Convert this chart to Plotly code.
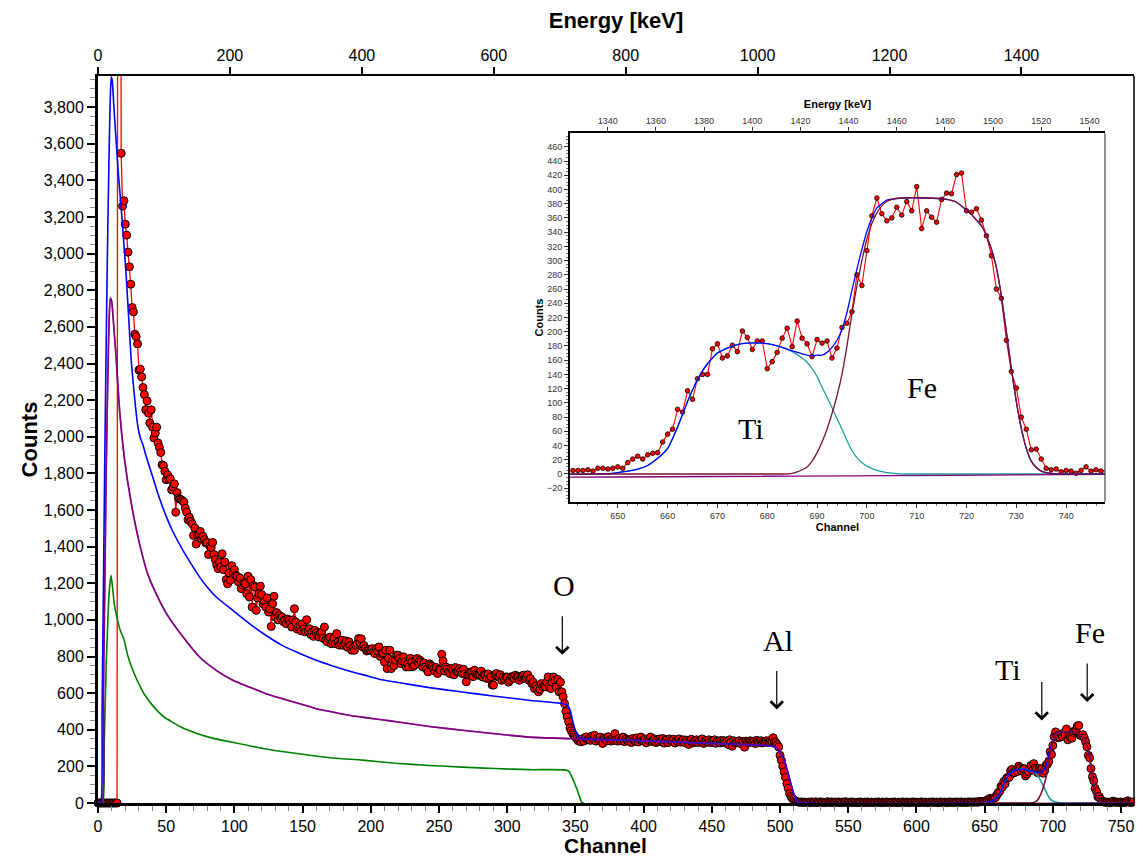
import plotly.graph_objects as go

KEV_PER_CH = 2.068

# ---------------- measured spectrum (one value per channel, 0..760) ----------------
counts = [
    0, 0, 0, 0, 0, 0, 0, 0, 0, 0,
    0, 0, 0, 0, 0, 12000, 12000, 3548, 3260, 3289,
    3161, 3101, 3008, 2928, 2833, 2706, 2682, 2560, 2547, 2507,
    2364, 2369, 2327, 2269, 2230, 2147, 2196, 2129, 2075, 2147,
    2052, 1993, 2020, 2052, 1966, 1942, 1914, 1847, 1841, 1811,
    1765, 1792, 1768, 1770, 1710, 1725, 1743, 1588, 1695, 1665,
    1660, 1656, 1650, 1643, 1610, 1588, 1547, 1560, 1538, 1525,
    1461, 1501, 1414, 1465, 1470, 1483, 1440, 1456, 1438, 1420,
    1423, 1357, 1402, 1395, 1423, 1357, 1329, 1300, 1280, 1315,
    1289, 1361, 1274, 1316, 1220, 1197, 1256, 1216, 1296, 1261,
    1274, 1243, 1238, 1207, 1229, 1171, 1190, 1202, 1197, 1143,
    1238, 1125, 1220, 1070, 1188, 1180, 1052, 1120, 1143, 1184,
    1138, 1088, 1100, 1070, 1120, 1043, 1060, 964, 1088, 1129,
    1015, 1040, 1000, 1025, 1010, 1015, 990, 1000, 979, 1005,
    997, 980, 961, 1000, 1061, 988, 950, 961, 970, 940,
    979, 950, 934, 1001, 940, 952, 920, 934, 910, 943,
    930, 915, 907, 925, 934, 900, 961, 890, 880, 898,
    906, 870, 880, 900, 870, 925, 880, 862, 875, 889,
    860, 871, 885, 850, 880, 860, 834, 850, 834, 862,
    870, 898, 875, 897, 852, 860, 843, 830, 834, 840,
    834, 843, 825, 816, 843, 830, 852, 800, 816, 820,
    770, 834, 734, 789, 834, 734, 780, 750, 780, 807,
    807, 790, 761, 775, 798, 770, 743, 760, 743, 790,
    770, 745, 752, 780, 789, 760, 780, 770, 743, 765,
    743, 730, 716, 760, 752, 745, 734, 720, 740, 707,
    730, 725, 812, 776, 720, 743, 730, 715, 707, 735,
    725, 700, 740, 716, 720, 734, 720, 707, 730, 705,
    662, 700, 707, 715, 716, 690, 725, 705, 700, 698,
    698, 720, 688, 700, 698, 680, 705, 680, 690, 644,
    644, 700, 707, 690, 688, 700, 670, 688, 675, 688,
    688, 660, 670, 690, 688, 680, 698, 690, 688, 670,
    688, 695, 698, 680, 688, 700, 670, 680, 652, 660,
    625, 640, 625, 607, 620, 652, 634, 640, 634, 660,
    688, 640, 625, 660, 688, 670, 634, 675, 607, 660,
    607, 580, 543, 500, 470, 443, 410, 395, 380, 370,
    360, 352, 340, 345, 334, 350, 338, 356, 361, 345,
    350, 342, 365, 348, 370, 338, 352, 347, 360, 340,
    325, 355, 348, 340, 362, 345, 338, 350, 342, 379,
    345, 338, 352, 340, 347, 360, 335, 350, 342, 338,
    345, 330, 352, 343, 338, 355, 333, 348, 360, 340,
    338, 350, 329, 345, 340, 360, 336, 342, 350, 330,
    345, 335, 350, 338, 352, 327, 342, 346, 330, 350,
    340, 335, 348, 328, 342, 336, 350, 332, 340, 345,
    330, 344, 335, 320, 340, 348, 328, 338, 333, 345,
    330, 342, 335, 350, 325, 338, 340, 332, 345, 330,
    338, 330, 345, 326, 340, 335, 328, 342, 333, 340,
    330, 338, 320, 345, 332, 310, 340, 328, 335, 330,
    340, 325, 336, 330, 305, 338, 332, 328, 340, 335,
    332, 338, 325, 342, 335, 330, 340, 328, 336, 333,
    340, 330, 335, 342, 338, 356, 335, 330, 318, 306,
    260, 233, 200, 170, 140, 106, 80, 51, 35, 25,
    18, 10, 8, 6, 5, 4, 6, 3, 5, 4,
    3, 5, 2, 6, 4, 3, 7, 2, 4, 5,
    6, 3, 4, 2, 5, 7, 3, 4, 6, 2,
    4, 5, 3, 6, 2, 4, 5, 3, 7, 4,
    2, 5, 4, 6, 3, 4, 2, 5, 3, 6,
    4, 3, 5, 2, 6, 4, 3, 5, 4, 2,
    5, 3, 6, 4, 2, 5, 4, 3, 6, 3,
    4, 2, 5, 3, 6, 4, 3, 5, 2, 4,
    6, 3, 4, 5, 2, 4, 3, 6, 4, 5,
    3, 4, 2, 5, 6, 3, 4, 5, 2, 4,
    5, 3, 6, 4, 3, 5, 2, 4, 6, 3,
    4, 5, 3, 2, 6, 4, 5, 3, 4, 6,
    3, 5, 4, 6, 3, 4, 5, 3, 6, 4,
    5,
    5, 5, 5, 6, 4, 8, 8, 7, 8, 10,
    8, 16, 21, 25, 21, 27, 29, 30, 45, 56,
    63, 91, 87, 117, 105, 134, 140, 140, 176, 183,
    163, 166, 181, 172, 201, 192, 175, 187, 187, 148,
    158, 171, 191, 205, 179, 215, 191, 183, 165, 189,
    184, 187, 163, 177, 206, 212, 228, 280, 265, 314,
    363, 388, 366, 356, 360, 375, 364, 383, 370, 404,
    345, 370, 361, 354, 386, 395, 394, 421, 423, 370,
    368, 373, 357, 335, 307, 260, 247, 188, 144, 121,
    80, 63, 34, 35, 21, 8, 6, 7, 3, 5,
    4, 1, 5, 10, 4, 6, 4, 5, 3, 6,
    2, 4, 3, 8, 12, 5, 3, 4, 6, 5,
]
channel = list(range(len(counts)))

# ---------------- simulated curves (sampled channel / value pairs) ----------------
total_ch = [0, 2, 3, 4, 5, 6, 7, 8, 9, 9.7, 10.5, 11.5, 13.4, 15, 17, 19, 20.7, 22.5, 24.3,
            27, 29.2, 31, 33, 35, 40, 45, 50, 55, 60, 65, 70, 75, 80, 86.7, 98.8, 111, 123,
            135, 148, 160, 172, 184, 196, 208, 220, 243, 267, 291, 316, 340, 344, 346,
            348.5, 350, 352, 355, 360, 391, 440, 488, 495, 498, 500, 503, 506.6, 510, 513,
            516, 646, 648, 650, 652, 654, 656, 658, 660, 661, 662, 663, 664, 665, 666, 667,
            668, 669, 670, 672, 674, 676, 679, 681, 683, 685, 687, 688, 689, 690, 691, 692,
            693, 694, 695, 696, 697, 698, 699, 700, 701, 702, 703, 704, 705, 707, 712, 716,
            718, 720, 721, 722, 723, 724, 725, 726, 727, 728, 729, 730, 731, 732, 733, 734,
            735, 736, 737, 738, 760]
total_val = [0, 0, 500, 1200, 1900, 2500, 3050, 3500, 3850, 3965, 3940, 3820, 3603, 3430, 3250,
             3050, 2875, 2650, 2421, 2200, 2057, 1995, 1955, 1900, 1783, 1665, 1565, 1480, 1410,
             1345, 1285, 1228, 1180, 1125, 1052, 980, 916, 861, 816, 779, 748, 721, 697, 673, 658,
             630, 606, 583, 561, 543, 535, 510, 433, 395, 365, 352, 349, 342, 328, 315, 308,
             298, 275, 233, 142, 51, 8, 0, 0, 0.5, 2, 4, 7, 12, 22, 36, 50, 66, 84, 102, 118,
             133, 145, 155, 163, 170, 177, 182, 184, 184, 182, 178, 173, 169, 167, 166, 167,
             167, 171, 178, 188, 203, 227, 258, 288, 316, 341, 360, 374, 380, 385, 386.5, 388,
             388, 386, 382, 371, 365, 357, 349, 335, 316, 290, 250, 200, 148, 102, 64, 36, 18,
             9, 4, 2, 1, 0, 0]

al_ch = [0, 3, 4, 5, 6, 7, 8, 9, 10, 11, 12, 13.4, 15.8, 19.5, 24.3, 29.2, 33, 36, 40.4, 50.2,
         62.4, 74.5, 86.7, 98.8, 111, 123, 135, 148, 160, 172, 184, 196, 208, 220, 243, 267,
         291, 316, 347, 364, 391, 440, 488, 495, 498, 500, 503, 506.6, 510, 513, 516, 760]
al_val = [0, 0, 600, 1200, 1800, 2250, 2600, 2757, 2740, 2660, 2560, 2420, 2147, 1874, 1640,
          1456, 1340, 1260, 1179, 1034, 906, 797, 724, 670, 633, 597, 570, 542, 515, 497, 479,
          466, 455, 442, 418, 397, 378, 360, 351, 346, 342, 328, 315, 308, 298, 275, 233, 142,
          51, 8, 0, 0]

o_ch = [0, 3.5, 4.5, 6, 7, 8, 9.5, 10.5, 11.9, 14, 16, 19.2, 22, 26.5, 30, 33.6, 40.9, 48.2,
        60.4, 72.5, 84.7, 96.9, 121, 146, 170, 194, 218, 243, 267, 291, 316, 342, 345, 347,
        349, 351, 353, 354.6, 356]
o_val = [0, 0, 300, 750, 950, 1130, 1243, 1190, 1089, 1010, 950, 889, 800, 707, 650, 598, 525,
         471, 416, 380, 353, 334, 298, 270, 247, 234, 217, 205, 196, 188, 182, 181, 175, 150,
         115, 79, 35, 5, 0]

ti_ch = [648, 649, 650, 652, 654, 656, 658, 659, 660, 661, 662, 663, 664, 665, 666, 667, 668,
         669, 670, 672, 674, 676, 679, 681, 683, 685, 687, 688, 689, 690, 691, 692, 693, 694,
         695, 696, 697, 698, 699, 700, 702, 704, 706, 708, 760]
ti_val = [0, 1, 2, 4, 7, 12, 22, 28, 36, 50, 66, 84, 102, 118, 133, 145, 155, 163, 170, 177,
          182, 184, 184, 182, 178, 172, 163, 157, 148, 137, 122, 108, 93, 78, 63, 47, 33, 23,
          16, 11, 5, 2, 0.5, 0, 0]

fe_ch = [640, 683, 685, 686, 687, 688, 689, 690, 691, 692, 693, 694, 695, 696, 697, 698, 699,
         700, 701, 702, 703, 704, 705, 707, 712, 716, 718, 720, 721, 722, 723, 724, 725, 726,
         727, 728, 729, 730, 731, 732, 733, 734, 735, 736, 737, 738, 760]
fe_val = [0, 0, 1, 3, 6, 10, 18, 30, 45, 63, 85, 110, 140, 180, 225, 265, 300, 330, 352, 367,
          377, 383, 386, 388, 388, 386, 382, 371, 365, 357, 349, 335, 316, 290, 250, 200, 148,
          102, 64, 36, 18, 9, 4, 2, 1, 0, 0]

assert len(counts) == 761

# ---------------- layout constants ----------------
MAIN_X = [0, 759.5]
MAIN_Y = [0, 3970]
INS_X = [640.4, 747.8]
INS_Y = [-39, 479]

RED = "#ff0000"
BLUE = "#0000ff"
PURPLE = "#800080"
GREEN = "#008000"
TEAL = "#16a0a0"
FERED = "#7a1030"

fig = go.Figure()

curves = [
    (o_ch, o_val, GREEN),
    (ti_ch, ti_val, TEAL),
    (al_ch, al_val, PURPLE),
    (total_ch, total_val, BLUE),
    (fe_ch, fe_val, FERED),
]


def add_panel(xa, ya, msize, mline, lw, cw):
    fig.add_trace(go.Scatter(
        x=channel, y=counts, xaxis=xa, yaxis=ya, mode="lines+markers",
        line=dict(color=RED, width=lw),
        marker=dict(size=msize, color=RED, line=dict(color="black", width=mline)),
        cliponaxis=False, showlegend=False, hoverinfo="skip"))
    for cx, cy, col in curves:
        fig.add_trace(go.Scatter(
            x=cx, y=cy, xaxis=xa, yaxis=ya, mode="lines",
            line=dict(color=col, width=cw, shape="spline", smoothing=0.5),
            showlegend=False, hoverinfo="skip"))


add_panel("x", "y", 8, 1, 1.3, 1.6)
add_panel("x3", "y3", 4.6, 0.8, 1.1, 1.3)

# purple drawn again over the blue on the Al plateau of the main panel
fig.add_trace(go.Scatter(x=al_ch, y=al_val, xaxis="x", yaxis="y", mode="lines",
                         line=dict(color=PURPLE, width=1.6, shape="spline", smoothing=0.5),
                         opacity=0.6, showlegend=False, hoverinfo="skip"))

# helper traces so that the energy axes exist
fig.add_trace(go.Scatter(x=[None], y=[None], xaxis="x2", yaxis="y", showlegend=False))
fig.add_trace(go.Scatter(x=[None], y=[None], xaxis="x4", yaxis="y3", showlegend=False))

SANS = "Liberation Sans, Arial, sans-serif"
SERIF = "Liberation Serif, Times New Roman, serif"

main_tick = dict(family=SANS, size=16, color="black")
main_title = dict(family=SANS, size=22, color="black")
ins_tick = dict(family=SANS, size=9, color="#333333")
ins_title = dict(family=SANS, size=11, color="black")

ins_dom_x = [0.4556, 0.9720]
ins_dom_y = [0.4144, 0.9212]

# the page body adds an 8 px offset; keep the figure inside the window (no scrollbars)
fig.update_layout(
    width=1127, height=850,
    margin=dict(l=90, r=1, t=68, b=55, autoexpand=False),
    paper_bgcolor="white", plot_bgcolor="white",
    showlegend=False,
    xaxis=dict(domain=[0, 1], anchor="y", range=MAIN_X, tick0=0, dtick=50, automargin=False,
               ticks="outside", ticklen=7, tickwidth=1.5, tickcolor="black",
               minor=dict(dtick=10, ticks="outside", ticklen=5, tickcolor="#888888", tickwidth=1),
               showline=True, linewidth=3, linecolor="black", showgrid=False, zeroline=False,
               tickfont=main_tick),
    xaxis2=dict(overlaying="x", side="top", anchor="y", automargin=False,
                range=[MAIN_X[0] * KEV_PER_CH, MAIN_X[1] * KEV_PER_CH], tick0=0, dtick=200,
                ticks="outside", ticklen=7, tickwidth=1.5, tickcolor="black",
                showline=True, linewidth=2, linecolor="black", showgrid=False, zeroline=False,
                tickfont=main_tick,
                title=dict(text="<b>Energy [keV]</b>", font=main_title, standoff=16)),
    yaxis=dict(domain=[0, 1], anchor="x", range=MAIN_Y, tick0=0, dtick=200, tickformat=",d",
               automargin=False,
               ticks="outside", ticklen=8, tickwidth=1.5, tickcolor="black",
               minor=dict(dtick=50, ticks="outside", ticklen=5, tickcolor="#888888", tickwidth=1),
               showline=True, linewidth=3, linecolor="black", showgrid=False, zeroline=False,
               tickfont=main_tick,
               title=dict(text="<b>Counts</b>", font=main_title, standoff=1)),
    xaxis3=dict(domain=ins_dom_x, anchor="y3", range=INS_X, tick0=0, dtick=10, automargin=False,
                ticks="outside", ticklen=4, tickwidth=1, tickcolor="#333333",
                minor=dict(dtick=2, ticks="outside", ticklen=2, tickcolor="#777777", tickwidth=1),
                showline=True, linewidth=2, linecolor="black", showgrid=False, zeroline=False,
                tickfont=ins_tick,
                title=dict(text="<b>Channel</b>", font=ins_title, standoff=2)),
    xaxis4=dict(overlaying="x3", side="top", anchor="y3", automargin=False,
                range=[INS_X[0] * KEV_PER_CH, INS_X[1] * KEV_PER_CH], tick0=0, dtick=20,
                ticks="outside", ticklen=4, tickwidth=1, tickcolor="#333333",
                showline=True, linewidth=2, linecolor="black", showgrid=False, zeroline=False,
                tickfont=ins_tick,
                title=dict(text="<b>Energy [keV]</b>", font=ins_title, standoff=5)),
    yaxis3=dict(domain=ins_dom_y, anchor="x3", range=INS_Y, tick0=0, dtick=20, automargin=False,
                ticks="outside", ticklen=4, tickwidth=1, tickcolor="#333333",
                minor=dict(dtick=5, ticks="outside", ticklen=2, tickcolor="#777777", tickwidth=1),
                showline=True, linewidth=2, linecolor="black", showgrid=False, zeroline=False,
                tickfont=ins_tick,
                title=dict(text="<b>Counts</b>", font=ins_title, standoff=1)),
)

# bottom axis title placed below the tick labels
fig.add_annotation(x=0.4894, y=-0.058, xref="paper", yref="paper", text="<b>Channel</b>",
                   showarrow=False, xanchor="center", yanchor="middle",
                   font=dict(family=SANS, size=21, color="black"))

# right-hand borders
fig.add_shape(type="line", xref="x domain", yref="y domain", x0=1, x1=1, y0=0, y1=1,
              line=dict(color="black", width=1.5))
fig.add_shape(type="line", xref="x3 domain", yref="y3 domain", x0=1, x1=1, y0=0, y1=1,
              line=dict(color="#444444", width=1.2))

# element labels and arrows (main panel)
labels_main = [("O", 341.9, 1188, 340.4, 809), ("Al", 498.8, 888, 497.6, 511),
               ("Ti", 667.4, 728, 691.9, 451), ("Fe", 727.3, 933, 725.2, 551)]
for txt, tx, ty, axx, tip in labels_main:
    fig.add_annotation(x=tx, y=ty, xref="x", yref="y", text=txt, showarrow=False,
                       font=dict(family=SERIF, size=30, color="black"))
    fig.add_annotation(x=axx, y=tip, xref="x", yref="y", text="", showarrow=True,
                       ax=0, ay=-40, arrowhead=4, arrowsize=2.0, arrowwidth=1.2,
                       arrowcolor="black")

for txt, tx, ty in [("Ti", 676.7, 64), ("Fe", 711.1, 122)]:
    fig.add_annotation(x=tx, y=ty, xref="x3", yref="y3", text=txt, showarrow=False,
                       font=dict(family=SERIF, size=30, color="black"))

fig.write_html("out.html")
